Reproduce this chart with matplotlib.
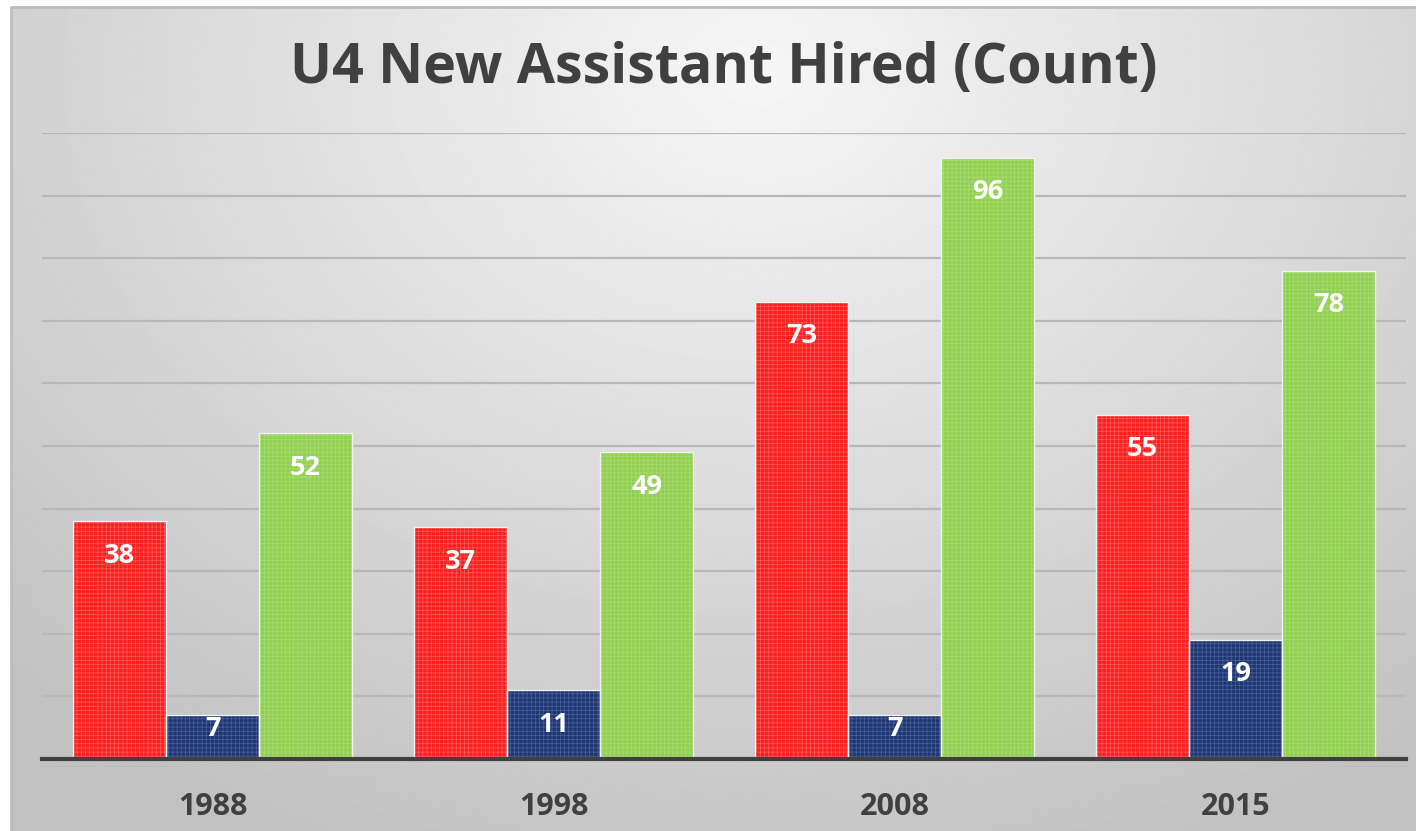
import matplotlib.pyplot as plt
import numpy as np

years = ['1988', '1998', '2008', '2015']
red_vals = [38, 37, 73, 55]
navy_vals = [7, 11, 7, 19]
green_vals = [52, 49, 96, 78]
colors = ['#FF1F1F', '#1E3673', '#92D050']
hatch_colors = ['#FF5A5A', '#4A6099', '#A9DC78']

W, H = 1416, 831
plt.rcParams['hatch.linewidth'] = 0.5
fig = plt.figure(figsize=(W / 100, H / 100), dpi=100)
fig.patch.set_facecolor('white')

# radial grey background of the chart area
bg = fig.add_axes([11 / W, 0, 1 - 11 / W, 1 - 7 / H])
yy, xx = np.mgrid[0:400, 0:700]
xx = xx / 700.0
yy = yy / 400.0
d = np.sqrt((xx - 0.53) ** 2 + ((yy - 0.08) * 0.75) ** 2)
shade = np.clip(0.965 - 0.27 * d, 0.76, 0.97)
bg.imshow(shade, cmap='gray', vmin=0, vmax=1, aspect='auto', extent=[0, 1, 0, 1], origin='upper')
bg.set_xlim(0, 1)
bg.set_ylim(0, 1)
bg.axis('off')
bg.plot([0, 0, 1], [0, 1, 1], color='#BDBDBD', lw=2, transform=bg.transAxes, clip_on=False)

ax = fig.add_axes([42 / W, (H - 759) / H, (1406 - 42) / W, 626 / H])
ax.patch.set_alpha(0)

x = np.arange(len(years))
w = 0.273
series = [red_vals, navy_vals, green_vals]
for i, vals in enumerate(series):
    pos = x + (i - 1) * w
    ax.bar(pos, vals, w, color=colors[i], edgecolor=hatch_colors[i], hatch='++++', lw=0, zorder=3)
    ax.bar(pos, vals, w, fill=False, edgecolor='#F2F2F2', lw=1, zorder=4)
    for xp, v in zip(pos, vals):
        ty = max(v - 5.5, 4.8)
        ax.text(xp, ty, str(v), ha='center', va='center', color='white',
                fontsize=19.5, fontweight='bold', family='Open Sans', zorder=5)

ax.set_xlim(-0.5, 3.5)
ax.set_ylim(0, 100)
ax.set_yticks(np.arange(10, 101, 10))
ax.yaxis.grid(True, color='#B8B8B8', lw=1.6, zorder=0)
ax.tick_params(left=False, labelleft=False, bottom=False)
for s in ['top', 'right', 'left']:
    ax.spines[s].set_visible(False)
ax.spines['bottom'].set_color('#404040')
ax.spines['bottom'].set_linewidth(3)
ax.spines['bottom'].set_zorder(6)
ax.set_xticks(x)
ax.set_xticklabels(years, fontsize=22, fontweight='bold', color='#404040', family='Open Sans')
ax.tick_params(axis='x', pad=20)

fig.text(724 / W, 1 - 68 / H, 'U4 New Assistant Hired (Count)', ha='center', va='center',
         fontsize=40, fontweight='bold', color='#404040', family='Open Sans')

fig.savefig('out.png', dpi=100)
